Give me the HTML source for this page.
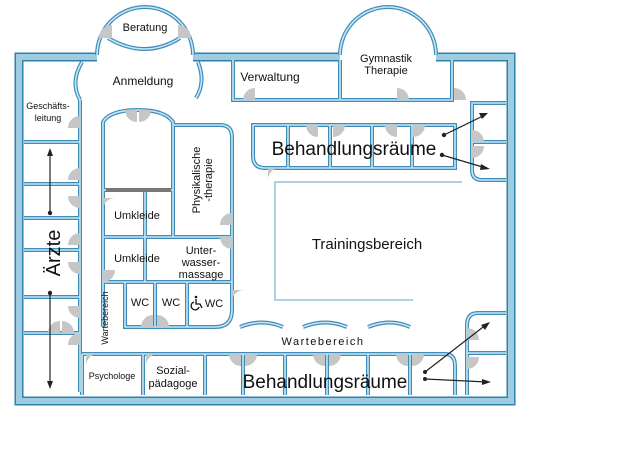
<!DOCTYPE html>
<html><head><meta charset="utf-8"><style>
html,body{margin:0;padding:0;background:#fff;width:630px;height:450px;overflow:hidden}
svg{display:block;font-family:"Liberation Sans",Arial,sans-serif}
</style></head><body>
<svg width="630" height="450" viewBox="0 0 630 450" xmlns="http://www.w3.org/2000/svg">
<defs>
<g id="walls" fill="none">
  <path d="M97 55 A48 48 0 0 1 193 55"/>
  <path d="M108 38 Q145 60 180 38"/>
  <path d="M340 55 A48 48 0 0 1 436 55"/>
  <path d="M82 62 Q70 82 80 100"/>
  <path d="M198 62 Q206 82 196 98"/>
  <path d="M80 100 V392"/>
  <path d="M24 142 H80 M24 184 H80 M24 218 H80 M24 250 H80 M24 297 H80 M24 333 H80"/>
  <path d="M103 327 V122 Q110 110 138 110 Q165 110 173 122 V237"/>
  <path d="M103 190 H173 M145 190 V282"/>
  <path d="M173 125 H220 Q232 125 232 137 V310 Q232 327 215 327 H125 V282"/>
  <path d="M103 237 H232 M103 282 H232 M155 282 V327 M187 282 V327"/>
  <path d="M82 354 H445 Q455 354 455 366 V395"/>
  <path d="M82 354 V395 M143 354 V395 M205 354 V395 M243 354 V395 M285 354 V395 M327 354 V395 M368 354 V395 M410 354 V395"/>
  <path d="M506 313 H478 Q467 313 467 325 V395 M467 353 H506"/>
  <path d="M233 60 V100 H452 V60 M340 60 V100"/>
  <path d="M506 103 H472 V170 Q472 180 482 180 H506 M472 142 H506"/>
  <path d="M253 125 H455 V168 H265 Q253 168 253 156 Z"/>
  <path d="M288 125 V168 M330 125 V168 M372 125 V168 M412 125 V168"/>
  <path d="M240 327 Q262 318 283 327 M303 327 Q325 318 347 327 M368 327 Q390 318 410 327"/>
</g>
</defs>
<path d="M97 57 H19 V401 H511 V57 H436 M193 57 H340" fill="none" stroke="#2f7fb0" stroke-width="9"/>
<path d="M97 57 H19 V401 H511 V57 H436 M193 57 H340" fill="none" stroke="#9fcde0" stroke-width="6"/>
<use href="#walls" stroke="#3d8dbb" stroke-width="4"/>
<use href="#walls" stroke="#c9e6f2" stroke-width="1.6"/>
<rect x="106" y="188" width="65" height="4" fill="#777"/>
<path d="M462 182 H275 V300 H413" fill="none" stroke="#a9d2e4" stroke-width="2"/>
<g fill="#c6c6c6">
  <path d="M112 38 L112 25 A13 13 0 0 0 99 38 Z"/>
  <path d="M178 38 L178 25 A13 13 0 0 1 191 38 Z"/>
  <path d="M137 110 V122 A12 12 0 0 1 125 110 Z"/>
  <path d="M139 110 V122 A12 12 0 0 0 151 110 Z"/>
  <path d="M80 128 H68 A12 12 0 0 1 80 116 Z"/>
  <path d="M80 180 H68 A12 12 0 0 1 80 168 Z"/>
  <path d="M80 196 H68 A12 12 0 0 0 80 208 Z"/>
  <path d="M80 245 H68 A12 12 0 0 1 80 233 Z"/>
  <path d="M80 262 H68 A12 12 0 0 0 80 274 Z"/>
  <path d="M80 306 H68 A12 12 0 0 0 80 318 Z"/>
  <path d="M60 333 H48 A12 12 0 0 1 60 321 Z"/>
  <path d="M62 333 H74 A12 12 0 0 0 62 321 Z"/>
  <path d="M80 345 H68 A12 12 0 0 1 80 333 Z"/>
  <path d="M103 198 H115 A12 12 0 0 0 103 210 Z"/>
  <path d="M103 270 H115 A12 12 0 0 1 103 282 Z"/>
  <path d="M232 225 H220 A12 12 0 0 1 232 213 Z"/>
  <path d="M232 237 H220 A12 12 0 0 0 232 249 Z"/>
  <path d="M232 290 H244 A12 12 0 0 0 232 302 Z"/>
  <path d="M153 327 V315 A12 12 0 0 0 141 327 Z"/>
  <path d="M157 327 V315 A12 12 0 0 1 169 327 Z"/>
  <path d="M86 354 V366 A12 12 0 0 1 98 354 Z"/>
  <path d="M146 354 V366 A12 12 0 0 1 158 354 Z"/>
  <path d="M241 354 V366 A12 12 0 0 1 229 354 Z"/>
  <path d="M245 354 V366 A12 12 0 0 0 257 354 Z"/>
  <path d="M325 354 V366 A12 12 0 0 1 313 354 Z"/>
  <path d="M329 354 V366 A12 12 0 0 0 341 354 Z"/>
  <path d="M408 354 V366 A12 12 0 0 1 396 354 Z"/>
  <path d="M412 354 V366 A12 12 0 0 0 424 354 Z"/>
  <path d="M467 340 H479 A12 12 0 0 0 467 328 Z"/>
  <path d="M467 357 H479 A12 12 0 0 1 467 369 Z"/>
  <path d="M255 100 V88 A12 12 0 0 0 243 100 Z"/>
  <path d="M397 100 V88 A12 12 0 0 1 409 100 Z"/>
  <path d="M454 100 V88 A12 12 0 0 1 466 100 Z"/>
  <path d="M318 125 V137 A12 12 0 0 1 306 125 Z"/>
  <path d="M333 125 V137 A12 12 0 0 0 345 125 Z"/>
  <path d="M397 125 V137 A12 12 0 0 1 385 125 Z"/>
  <path d="M413 125 V137 A12 12 0 0 0 425 125 Z"/>
  <path d="M268 168 V180 A12 12 0 0 1 280 168 Z"/>
  <path d="M472 142 H484 A12 12 0 0 0 472 130 Z"/>
  <path d="M472 146 H484 A12 12 0 0 1 472 158 Z"/>
</g>
<g stroke="#222" stroke-width="1.2" fill="#222">
  <line x1="50" y1="150" x2="50" y2="213"/><path d="M47 156 L50 148 L53 156 Z" stroke="none"/>
  <line x1="50" y1="293" x2="50" y2="386"/><path d="M47 381 L50 389 L53 381 Z" stroke="none"/>
  <circle cx="50" cy="213" r="2.2" stroke="none"/><circle cx="50" cy="293" r="2.2" stroke="none"/>
  <line x1="444" y1="135" x2="485" y2="115"/><path d="M479 113 L488 113 L482 119 Z" stroke="none"/>
  <line x1="442" y1="155" x2="486" y2="168"/><path d="M481 164 L490 169 L480 170 Z" stroke="none"/>
  <circle cx="444" cy="135" r="2.2" stroke="none"/><circle cx="442" cy="155" r="2.2" stroke="none"/>
  <line x1="425" y1="372" x2="487" y2="324"/><path d="M481 325 L490 322 L485 330 Z" stroke="none"/>
  <line x1="425" y1="379" x2="487" y2="382"/><path d="M482 379 L491 382 L482 385 Z" stroke="none"/>
  <circle cx="425" cy="372" r="2" stroke="none"/><circle cx="425" cy="379" r="2" stroke="none"/>
</g>
<!-- wheelchair icon -->
<g fill="none" stroke="#111" stroke-width="1.3">
  <circle cx="196" cy="297" r="1.3" fill="#111" stroke="none"/>
  <path d="M196 299 V304 H200 L202 308"/>
  <path d="M194 302 A4 4 0 1 0 199 307"/>
</g>
<g fill="#111" font-size="11" text-anchor="middle">
  <text x="145" y="31">Beratung</text>
  <text x="143" y="85" font-size="12">Anmeldung</text>
  <text x="48" y="109" font-size="9">Geschäfts-</text>
  <text x="48" y="121" font-size="9">leitung</text>
  <text x="270" y="81" font-size="12">Verwaltung</text>
  <text x="386" y="62" font-size="11">Gymnastik</text>
  <text x="386" y="74" font-size="11">Therapie</text>
  <text x="354" y="155" font-size="19">Behandlungsräume</text>
  <text x="367" y="249" font-size="15">Trainingsbereich</text>
  <text x="137" y="219">Umkleide</text>
  <text x="137" y="262">Umkleide</text>
  <text x="201" y="254" font-size="11">Unter-</text>
  <text x="201" y="266" font-size="11">wasser-</text>
  <text x="201" y="278" font-size="11">massage</text>
  <text x="140" y="306">WC</text>
  <text x="171" y="306">WC</text>
  <text x="214" y="307">WC</text>
  <text x="323" y="345" font-size="11" letter-spacing="1.5">Wartebereich</text>
  <text x="325" y="388" font-size="19">Behandlungsräume</text>
  <text x="112" y="379" font-size="9">Psychologe</text>
  <text x="173" y="374" font-size="11">Sozial-</text>
  <text x="173" y="387" font-size="11">pädagoge</text>
  <text transform="translate(200,180) rotate(-90)" font-size="11">Physikalische</text>
  <text transform="translate(212,180) rotate(-90)" font-size="11">-therapie</text>
  <text transform="translate(108,318) rotate(-90)" font-size="9">Wartebereich</text>
  <text transform="translate(60,253) rotate(-90)" font-size="20">Ärzte</text>
</g>
</svg>
</body></html>
